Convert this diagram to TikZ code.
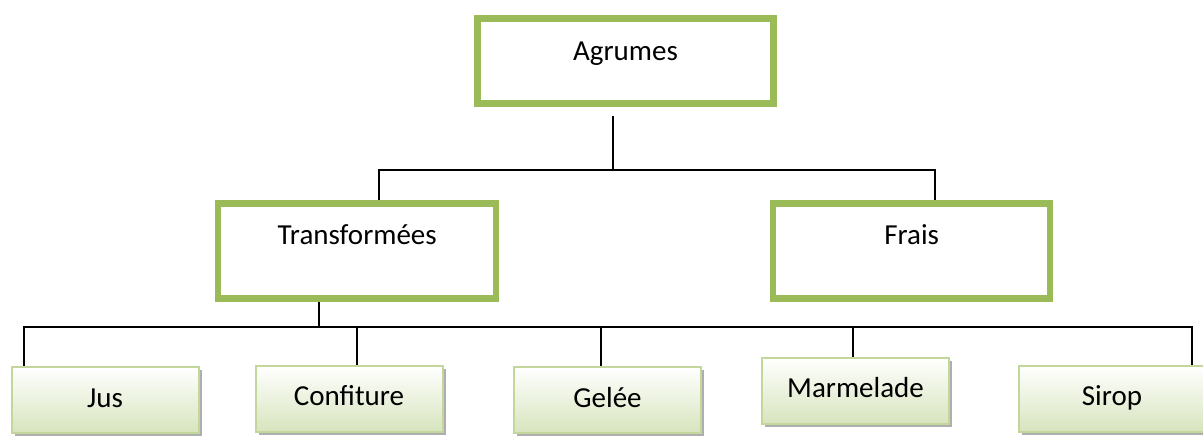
\documentclass[tikz,border=0pt]{standalone}
\usepackage{fontspec}
\setmainfont{Carlito}
\usetikzlibrary{calc,shadows}
\definecolor{agrgreen}{HTML}{9BBB59}
\definecolor{agrlight}{HTML}{C3D69B}
\definecolor{agrfill}{HTML}{D7E4BD}
\tikzset{
	catbox/.style={
			draw=agrgreen,line width=6.5pt,inner sep=0pt,
			minimum height=95pt,text height=20pt,text depth=33pt
		},
	prodbox/.style={
			draw=agrlight,line width=2pt,inner sep=0pt,
			top color=white,bottom color=agrfill,
			minimum width=187pt,minimum height=66pt,text height=20pt,text depth=6pt,
			drop shadow={shadow xshift=3pt,shadow yshift=-3pt,fill=black!40!gray,opacity=0.45}
		},
	link/.style={line width=1.8pt}
}

\begin{document}
\begin{tikzpicture}[x=1pt,y=-1pt,font=\fontsize{29}{34}\selectfont]
            \useasboundingbox (0,0) rectangle (1203,438);
            \node[catbox,minimum width=296pt,minimum height=85pt,text depth=21pt] (agr) at (625.5,60.8) {Agrumes};
            \node[catbox,minimum width=278pt] (trans) at (357.2,250.8) {Transformées};
            \node[catbox,minimum width=277pt] (frais) at (911.7,250.8) {Frais};
            \foreach \name/\txt/\x/\y in {jus/Jus/105/400,conf/Confiture/349/399,gel/Gelée/607.5/400,marm/Marmelade/855.5/391,sirop/Sirop/1112/399}
                \node[prodbox] (\name) at (\x,\y) {\txt};
            \coordinate (hub) at (612.7,170);
            \coordinate (tl) at (379,170);
            \coordinate (tr) at (935,170);
            \coordinate (bl) at (24.3,326.7);
            \coordinate (br) at (1192,326.7);
            \coordinate (tb) at (319,326.7);
            \draw[link] ($(hub |- agr.south)+(0,9)$) -- (hub);
            \draw[link] (tl |- trans.north) -- (tl) -- (tr) -- (tr |- frais.north);
            \draw[link] (tb |- trans.south) -- (tb);
            \draw[link] (bl |- jus.north) -- (bl) -- (br) -- (br |- sirop.north);
            \foreach \name/\x in {conf/357.3,gel/601,marm/852.7}
                \draw[link] (\x,326.7) -- (\x,0 |- \name.north);
        \end{tikzpicture}
\end{document}
